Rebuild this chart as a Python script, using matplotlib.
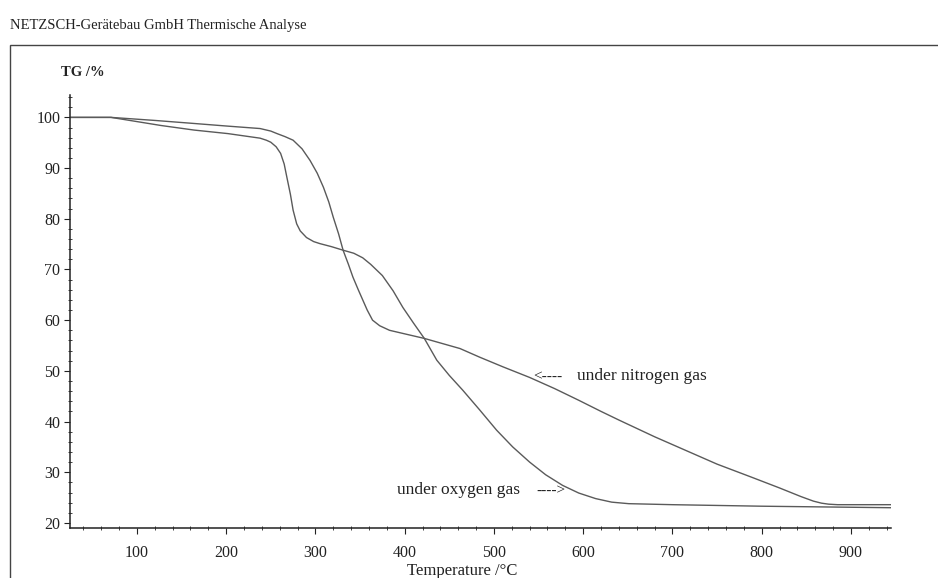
import matplotlib.pyplot as plt
from matplotlib.patches import Rectangle
from matplotlib.ticker import MultipleLocator

# TG curves (temperature in degC, mass in %)
oxygen_t = [26, 71, 127, 164, 202, 238, 245, 250, 256, 261, 265, 268, 272, 275,
            279, 283, 290, 298, 305, 318, 331, 343, 353, 362, 375, 387, 398,
            410, 422, 436, 450, 465, 484, 503, 521, 540, 558, 577, 595, 614,
            632, 651, 700, 800, 945]
oxygen_tg = [100.0, 100.0, 98.4, 97.5, 96.8, 95.9, 95.5, 95.1, 94.2, 92.9, 90.8,
             88.2, 84.8, 81.7, 79.0, 77.6, 76.3, 75.5, 75.1, 74.5, 73.8, 73.2,
             72.3, 71.0, 68.8, 65.8, 62.5, 59.4, 56.4, 52.1, 49.1, 46.2, 42.3,
             38.3, 35.0, 32.0, 29.5, 27.4, 25.9, 24.8, 24.1, 23.8, 23.6, 23.3,
             23.0]

nitrogen_t = [26, 71, 120, 164, 200, 238, 250, 257, 266, 275, 285, 294, 302, 309,
              315, 320, 326, 331, 337, 342, 348, 353, 358, 364, 372, 383, 400,
              422, 440, 462, 484, 510, 540, 568, 595, 620, 640, 680, 715, 750,
              789, 820, 844, 858, 867, 875, 885, 945]
nitrogen_tg = [100.0, 100.0, 99.4, 98.8, 98.3, 97.8, 97.3, 96.8, 96.2, 95.5, 93.8,
               91.5, 89.0, 86.2, 83.3, 80.3, 77.0, 73.8, 71.0, 68.5, 66.0, 64.0,
               62.0, 60.0, 58.9, 58.0, 57.3, 56.4, 55.5, 54.4, 52.7, 50.8, 48.7,
               46.5, 44.2, 42.0, 40.3, 37.0, 34.3, 31.6, 29.0, 26.9, 25.2, 24.3,
               23.9, 23.7, 23.6, 23.6]

x_ticks = [100, 200, 300, 400, 500, 600, 700, 800, 900]
y_ticks = [20, 30, 40, 50, 60, 70, 80, 90, 100]

plt.rcParams['font.family'] = ['Liberation Serif', 'DejaVu Serif']
ink = '#222222'
line_col = '#5a5a5a'

fig = plt.figure(figsize=(9.38, 5.78), dpi=100)
ax = fig.add_axes([0.0746, 0.0865, 0.8754, 0.749])

ax.plot(oxygen_t, oxygen_tg, color=line_col, lw=1.0)
ax.plot(nitrogen_t, nitrogen_tg, color=line_col, lw=1.0)

ax.set_xlim(25, 945)
ax.set_ylim(19, 104.4)
ax.set_xticks(x_ticks)
ax.set_yticks(y_ticks)
ax.xaxis.set_minor_locator(MultipleLocator(20))
ax.yaxis.set_minor_locator(MultipleLocator(2))
ax.tick_params(which='major', direction='out', length=4, width=0.8,
               labelsize=11.5, colors=ink, pad=3)
ax.tick_params(which='minor', direction='inout', length=3, width=0.6, colors=ink)
ax.tick_params(axis='x', pad=8)

for side in ['top', 'right']:
    ax.spines[side].set_visible(False)
for side in ['left', 'bottom']:
    ax.spines[side].set_color(ink)
    ax.spines[side].set_linewidth(1.1)

# annotations
ax.text(544, 48.9, '<----', fontsize=11, color=ink, va='center')
ax.text(593, 48.9, 'under nitrogen gas', fontsize=12.5, color=ink, va='center')
ax.text(391, 26.4, 'under oxygen gas', fontsize=12.5, color=ink, va='center')
ax.text(548, 26.4, '---->', fontsize=11, color=ink, va='center')

# axis titles as in the instrument printout
fig.text(61 / 938, 1 - 72 / 578, 'TG /%', fontsize=10.5, fontweight='bold',
         color=ink, va='center')
fig.text(462 / 938, 1 - 571 / 578, 'Temperature /°C', fontsize=12,
         color=ink, ha='center', va='center')
fig.text(10 / 938, 1 - 25 / 578, 'NETZSCH-Gerätebau GmbH Thermische Analyse',
         fontsize=10.5, color=ink, va='center')

# printout frame
fig.patches.append(Rectangle((10 / 938, -0.01), 0.99, 1 - 45 / 578 + 0.01,
                             transform=fig.transFigure, fill=False,
                             edgecolor='#444444', lw=1.0))

fig.savefig('out.png', dpi=100)
